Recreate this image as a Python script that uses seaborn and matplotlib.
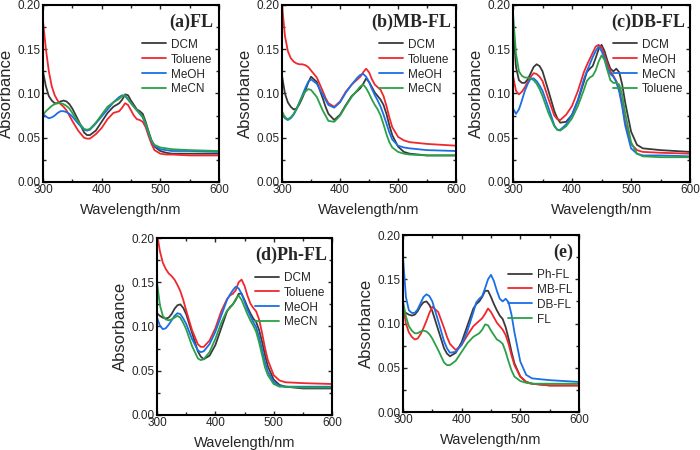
import numpy as np
import pandas as pd
import matplotlib
matplotlib.use('Agg')
import matplotlib.pyplot as plt
import seaborn as sns
from matplotlib.ticker import MultipleLocator

# Wavelength grid (nm)
wl = [300, 305, 310, 315, 320, 325, 330, 335, 340, 345, 350, 360, 370, 375, 380, 390, 400,
      410, 420, 425, 430, 435, 440, 445, 450, 455, 460, 465, 470, 475, 480, 485, 490,
      500, 510, 520, 550, 600]

# (a) FL
a_dcm = [.125, .108, .097, .092, .089, .089, .091, .092, .091, .088, .083, .070, .056, .053, .053, .058, .068,
         .078, .085, .087, .089, .093, .099, .098, .092, .087, .082, .080, .077, .068, .057, .047, .040,
         .035, .033, .032, .032, .032]
a_tol = [.182, .150, .125, .108, .098, .092, .088, .085, .081, .075, .069, .058, .050, .049, .049, .054, .061,
         .071, .078, .079, .080, .084, .089, .087, .081, .075, .071, .070, .068, .062, .052, .043, .036,
         .032, .031, .031, .030, .030]
a_meoh = [.077, .074, .072, .073, .075, .078, .080, .080, .079, .077, .074, .066, .059, .058, .059, .066, .074,
          .082, .090, .093, .096, .098, .097, .093, .089, .085, .081, .077, .073, .065, .055, .046, .041,
          .037, .036, .035, .035, .034]
a_mecn = [.076, .080, .083, .086, .088, .089, .089, .088, .086, .083, .078, .068, .060, .059, .060, .067, .076,
          .085, .090, .092, .094, .097, .098, .094, .089, .085, .081, .078, .074, .066, .056, .047, .042,
          .039, .038, .037, .036, .035]

# (b) MB-FL
b_dcm = [.120, .100, .090, .085, .082, .083, .088, .095, .103, .112, .119, .113, .095, .085, .077, .070, .076,
         .087, .097, .100, .103, .106, .111, .117, .113, .107, .101, .097, .093, .087, .077, .064, .053,
         .040, .034, .032, .030, .030]
b_tol = [.200, .165, .148, .140, .136, .134, .133, .133, .132, .130, .126, .118, .103, .095, .089, .085, .091,
         .102, .110, .113, .116, .119, .124, .128, .124, .116, .110, .107, .104, .097, .086, .073, .062,
         .051, .047, .045, .043, .041]
b_meoh = [.077, .072, .070, .072, .076, .082, .090, .098, .106, .113, .116, .111, .099, .093, .087, .084, .090,
          .101, .110, .114, .118, .121, .122, .119, .113, .105, .098, .092, .085, .076, .066, .056, .048,
          .041, .039, .038, .036, .035]
b_mecn = [.080, .073, .071, .073, .077, .083, .090, .097, .102, .105, .104, .096, .081, .075, .069, .068, .075,
          .086, .096, .100, .104, .108, .110, .106, .100, .093, .087, .082, .075, .065, .054, .045, .039,
          .034, .032, .031, .030, .030]

# (c) DB-FL
c_dcm = [.175, .130, .115, .112, .112, .116, .123, .130, .133, .131, .125, .103, .080, .072, .067, .068, .076,
         .092, .113, .124, .128, .131, .140, .150, .155, .148, .137, .128, .125, .128, .124, .110, .090,
         .057, .042, .038, .036, .034]
c_meoh = [.120, .103, .099, .102, .107, .113, .119, .123, .122, .119, .114, .094, .075, .071, .070, .076, .086,
          .103, .124, .132, .139, .146, .153, .155, .152, .143, .133, .125, .120, .114, .104, .088, .068,
          .043, .036, .034, .033, .032]
c_mecn = [.083, .077, .082, .092, .103, .111, .117, .117, .114, .109, .103, .084, .064, .059, .059, .065, .076,
          .093, .116, .125, .133, .141, .148, .153, .148, .140, .129, .122, .119, .113, .102, .085, .064,
          .038, .032, .030, .030, .029]
c_tol = [.190, .145, .125, .120, .118, .118, .117, .115, .111, .105, .097, .078, .063, .059, .058, .063, .072,
         .086, .104, .114, .118, .120, .126, .136, .143, .138, .126, .115, .112, .112, .110, .098, .078,
         .045, .032, .029, .028, .028]

# (d) Ph-FL
d_dcm = [.115, .112, .110, .109, .110, .114, .120, .124, .125, .121, .114, .093, .072, .066, .063, .067, .079,
         .098, .117, .122, .125, .130, .137, .137, .130, .122, .115, .109, .105, .096, .083, .068, .055,
         .040, .034, .032, .030, .030]
d_tol = [.205, .185, .172, .165, .160, .157, .153, .147, .140, .130, .118, .096, .080, .077, .077, .084, .098,
         .117, .131, .135, .137, .141, .150, .153, .146, .135, .126, .121, .117, .108, .093, .076, .062,
         .045, .039, .037, .036, .035]
d_meoh = [.110, .101, .097, .098, .102, .107, .112, .115, .114, .109, .103, .086, .073, .071, .072, .080, .094,
          .112, .130, .136, .141, .145, .143, .137, .128, .119, .112, .105, .099, .088, .074, .060, .049,
          .037, .033, .032, .032, .032]
d_mecn = [.150, .124, .112, .108, .107, .108, .110, .112, .110, .104, .097, .078, .064, .062, .063, .071, .086,
          .104, .118, .121, .125, .131, .135, .130, .122, .114, .107, .101, .094, .082, .068, .054, .045,
          .035, .032, .032, .031, .031]

black = '#3a3a3a'
red = '#f0282d'
blue = '#1a6fe8'
green = '#2aa048'

panels = [
    ('(a)FL', [0.0614, 0.5956, 0.2514, 0.3933],
     [('DCM', a_dcm, black), ('Toluene', a_tol, red), ('MeOH', a_meoh, blue), ('MeCN', a_mecn, green)]),
    ('(b)MB-FL', [0.4029, 0.5956, 0.2486, 0.3933],
     [('DCM', b_dcm, black), ('Toluene', b_tol, red), ('MeOH', b_meoh, blue), ('MeCN', b_mecn, green)]),
    ('(c)DB-FL', [0.7329, 0.5956, 0.2529, 0.3933],
     [('DCM', c_dcm, black), ('MeOH', c_meoh, red), ('MeCN', c_mecn, blue), ('Toluene', c_tol, green)]),
    ('(d)Ph-FL', [0.2243, 0.0778, 0.25, 0.3933],
     [('DCM', d_dcm, black), ('Toluene', d_tol, red), ('MeOH', d_meoh, blue), ('MeCN', d_mecn, green)]),
    # (e) compares the DCM spectra
    ('(e)', [0.5757, 0.0844, 0.2514, 0.3933],
     [('Ph-FL', d_dcm, black), ('MB-FL', b_dcm, red), ('DB-FL', c_dcm, blue), ('FL', a_dcm, green)]),
]

sns.set_style('ticks')
plt.rcParams['font.family'] = ['Liberation Sans', 'DejaVu Sans']

fig = plt.figure(figsize=(7, 4.5), dpi=100)

for title, pos, series in panels:
    ax = fig.add_axes(pos)
    for name, vals, col in series:
        sns.lineplot(x=wl, y=vals, color=col, linewidth=1.3, label=name, ax=ax)
    ax.set_xlim(300, 600)
    ax.set_ylim(0, 0.2)
    ax.set_xticks([300, 400, 500, 600])
    ax.set_yticks([0, 0.05, 0.10, 0.15, 0.20])
    ax.set_yticklabels(['0.00', '0.05', '0.10', '0.15', '0.20'])
    ax.xaxis.set_minor_locator(MultipleLocator(50))
    ax.yaxis.set_minor_locator(MultipleLocator(0.025))
    ax.tick_params(which='both', direction='in', top=True, right=True, labelsize=8.5, width=1, pad=1.5)
    ax.tick_params(which='major', length=3)
    ax.tick_params(which='minor', length=2)
    for s in ax.spines.values():
        s.set_linewidth(1.5)
        s.set_color('black')
    ax.set_xlabel('Wavelength/nm', fontsize=10.5, labelpad=5)
    ax.set_ylabel('Absorbance', fontsize=12, labelpad=3)
    ax.text(0.97, 0.90, title, transform=ax.transAxes, ha='right', va='center',
            fontsize=13, fontweight='bold', family='Liberation Serif')
    ax.legend(loc='upper right', bbox_to_anchor=(1.0, 0.85), frameon=False, fontsize=8.5,
              handlelength=2.0, handletextpad=0.4, labelspacing=0.25, borderaxespad=0.2)

fig.savefig('out.png', dpi=100)
